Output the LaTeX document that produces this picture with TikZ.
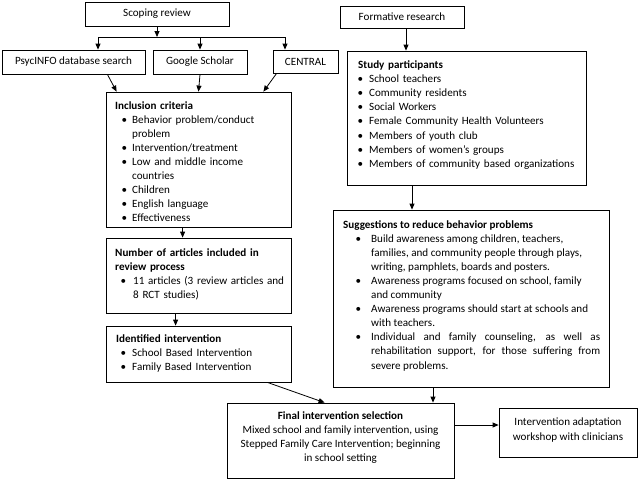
\documentclass[tikz,border=0pt]{standalone}
\usepackage{fontspec}
\setmainfont{Carlito}
\usepackage{enumitem}
\usetikzlibrary{arrows.meta}
\setlist[itemize]{label=\textbullet, topsep=0pt, partopsep=0pt, itemsep=0pt, parsep=0pt}
\begin{document}
\begin{tikzpicture}[x=1pt,y=-1pt,
  font=\fontsize{11.1}{14.1}\selectfont,
  box/.style={draw, line width=0.8pt, inner sep=0pt},
  lbl/.style={anchor=base west, inner sep=0pt, align=left},
  ctr/.style={inner sep=0pt, align=center},
  arr/.style={line width=0.8pt, -{Triangle[length=6pt,width=5pt]}},
  ln/.style={line width=0.8pt}]
\useasboundingbox (0,0) rectangle (638,480);

% boxes
\node[box, minimum width=144pt, minimum height=24pt] (scope) at (157,14) {Scoping review};
\node[box, minimum width=124pt, minimum height=22pt] (form) at (402,17) {Formative research};
\node[box, minimum width=143pt, minimum height=24pt] (psyc) at (73.5,62) {PsycINFO database search};
\node[box, minimum width=94pt, minimum height=24pt] (google) at (200,62) {Google Scholar};
\node[box, minimum width=65pt, minimum height=23pt] (central) at (305.5,61.5) {CENTRAL};
\node[box, minimum width=185pt, minimum height=135pt] (incl) at (198.5,159.5) {};
\node[box, minimum width=185pt, minimum height=75pt] (num) at (198.5,275.5) {};
\node[box, minimum width=185pt, minimum height=56pt] (ident) at (198.5,354) {};
\node[box, minimum width=239pt, minimum height=134pt] (study) at (466.5,118) {};
\node[box, minimum width=276pt, minimum height=177pt] (sugg) at (471,298.5) {};
\node[box, minimum width=227pt, minimum height=75pt] (final) at (340.5,440.5) {};
\node[box, minimum width=138pt, minimum height=49pt] (adapt) at (568,432.5) {};

% texts
\node[lbl, text width=175pt] (incltxt) at (115,109) {\textbf{Inclusion criteria}
\begin{itemize}[leftmargin=17pt,labelsep=5pt]
\item Behavior problem/conduct\\ problem
\item Intervention/treatment
\item Low and middle income\\ countries
\item Children
\item English language
\item Effectiveness
\end{itemize}};

\node[lbl, text width=175pt] (numtxt) at (115,256) {\textbf{Number of articles included in}\\\textbf{review process}
\begin{itemize}[leftmargin=18pt,labelsep=7pt]
\item 11 articles (3 review articles and\\ 8 RCT studies)
\end{itemize}};

\node[lbl, text width=175pt] (identtxt) at (116,342) {\textbf{Identified intervention}
\begin{itemize}[leftmargin=16pt,labelsep=6pt]
\item School Based Intervention
\item Family Based Intervention
\end{itemize}};

\node[lbl, text width=225pt] (studytxt) at (358,68.5) {\textbf{Study participants}
\begin{itemize}[leftmargin=11pt,labelsep=6pt]
\item School teachers
\item Community residents
\item Social Workers
\item Female Community Health Volunteers
\item Members of youth club
\item Members of women’s groups
\item Members of community based organizations
\end{itemize}};

\node[lbl, align=justify, text width=257pt] (suggtxt) at (343,228) {\textbf{Suggestions to reduce behavior problems}
\begin{itemize}[leftmargin=28pt,labelsep=10pt]
\item Build awareness among children, teachers,\newline families, and community people through plays,\newline writing, pamphlets, boards and posters.
\item Awareness programs focused on school, family\newline and community
\item Awareness programs should start at schools and\newline with teachers.
\item Individual and family counseling, as well as\linebreak rehabilitation support, for those suffering from\linebreak severe problems.
\end{itemize}};

\node[ctr] (finaltxt) at (340.5,437.5) {\textbf{Final intervention selection}\\Mixed school and family intervention, using\\Stepped Family Care Intervention; beginning\\in school setting};
\node[ctr] (adapttxt) at (568,430) {Intervention adaptation\\workshop with clinicians};

% connectors
\coordinate (split) at (157,37);
\coordinate (hl) at (98,37);
\coordinate (hr) at (285,37);
\coordinate (fx) at (406,0);
\coordinate (sx) at (412,0);
\coordinate (ax) at (433,0);
\coordinate (ay) at (0,425);
\draw[arr] (scope.south) -- (split);
\draw[ln] (hl) -- (hr);
\draw[arr] (hl) -- (hl |- psyc.north);
\draw[arr] (split -| google.north) -- (google.north);
\draw[arr] (hr) -- (hr |- central.north);
\draw[arr] ([xshift=-38pt]psyc.south east) -- ([xshift=11pt]incl.north west);
\draw[arr] (google.south) -- (incl.north);
\draw[arr] ([xshift=4pt]central.south west) -- ([xshift=-28pt]incl.north east);
\draw[arr] ([xshift=77pt]incl.south west) -- ([xshift=77pt]num.north west);
\draw[arr] ([xshift=70pt]num.south west) -- ([xshift=70pt]ident.north west);
\draw[arr] ([xshift=-24pt]ident.south east) -- ([xshift=98pt]final.north west);
\draw[arr] (form.south -| fx) -- (study.north -| fx);
\draw[arr] (study.south -| sx) -- (sugg.north -| sx);
\draw[arr] (sugg.south -| ax) -- (final.north -| ax);
\draw[arr] (final.east |- ay) -- (adapt.west |- ay);
\end{tikzpicture}
\end{document}
